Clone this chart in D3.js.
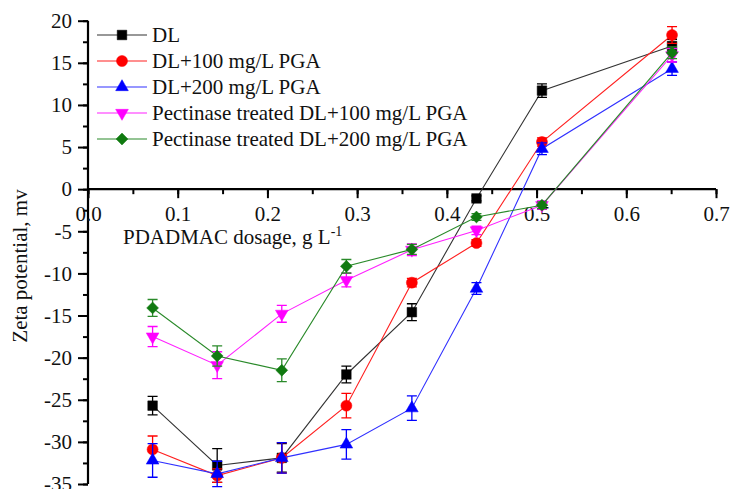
<!DOCTYPE html>
<html><head><meta charset="utf-8">
<script src="https://cdn.jsdelivr.net/npm/d3@7"></script>
<style>
body{margin:0;background:#fff;}
svg{display:block;}
text{font-family:"Liberation Serif","Times New Roman",serif;fill:#111;}
</style></head>
<body>
<svg id="chart" width="730" height="489"></svg>
<script>
// ---- data ----
const dosage = [0.072, 0.144, 0.216, 0.288, 0.361, 0.433, 0.506, 0.651];
const seriesNames = ["DL", "DL+100 mg/L PGA", "DL+200 mg/L PGA",
  "Pectinase treated DL+100 mg/L PGA", "Pectinase treated DL+200 mg/L PGA"];
const dlValues   = [-25.7, -32.8, -31.9, -22.0, -14.6, -1.1, 11.7, 17.0];
const dlErr      = [1.1, 2.0, 1.7, 1.0, 1.0, 0.3, 0.8, 0.8];
const pga100     = [-30.9, -34.0, -31.9, -25.7, -11.1, -6.4, 5.6, 18.3];
const pga100Err  = [1.6, 0.8, 1.8, 1.45, 0.5, 0.4, 0.5, 1.0];
const pga200     = [-32.2, -33.8, -31.9, -30.3, -26.0, -11.8, 4.8, 14.3];
const pga200Err  = [2.0, 1.5, 1.8, 1.75, 1.45, 0.7, 0.7, 0.8];
const pect100    = [-17.5, -20.9, -14.8, -10.8, -7.2, -4.9, -1.9, 15.9];
const pect100Err = [1.2, 1.6, 1.0, 0.8, 0.7, 0.5, 0.5, 0.8];
const pect200    = [-14.1, -19.8, -21.5, -9.15, -7.15, -3.3, -1.9, 16.2];
const pect200Err = [1.0, 1.2, 1.35, 0.8, 0.6, 0.4, 0.4, 0.7];
const xTicks = [0, 0.1, 0.2, 0.3, 0.4, 0.5, 0.6, 0.7];
const yTicks = [-35, -30, -25, -20, -15, -10, -5, 0, 5, 10, 15, 20];

// ---- styles ----
const styles = [
  {line:"#333", fill:"#000", stroke:"#000", shape:"square"},
  {line:"#ff2020", fill:"#ff0000", stroke:"#ff0000", shape:"circle"},
  {line:"#3030ff", fill:"#0000ff", stroke:"#0000ff", shape:"triangle"},
  {line:"#ff20ff", fill:"#ff00ff", stroke:"#ff00ff", shape:"down"},
  {line:"#2a8a2a", fill:"#107a10", stroke:"#2a8a2a", shape:"diamond"}
];
const allVals = [dlValues, pga100, pga200, pect100, pect200];
const allErr = [dlErr, pga100Err, pga200Err, pect100Err, pect200Err];

const svg = d3.select("#chart");
const x = d3.scaleLinear().domain([0, 0.7]).range([88, 716]);
const y = d3.scaleLinear().domain([-35, 20]).range([484, 20.7]);

function symbolPath(shape){
  if (shape === "square") return d3.symbol(d3.symbolSquare, 92)();
  if (shape === "circle") return d3.symbol(d3.symbolCircle, 95)();
  if (shape === "triangle" || shape === "down") return d3.symbol(d3.symbolTriangle, 70)();
  if (shape === "diamond") return d3.symbol(d3.symbolSquare, 70)();
}
function symbolTransform(shape, px, py){
  let t = `translate(${px},${py})`;
  if (shape === "down") t += " rotate(180)";
  if (shape === "diamond") t += " rotate(45)";
  return t;
}

// ---- axes ----
const fs = 21;
// y axis
const yMinor = d3.range(-35, 20.01, 2.5);
svg.append("g").attr("transform", "translate(88,0)")
  .call(d3.axisLeft(y).tickValues(yMinor).tickSize(5).tickFormat(""))
  .call(g => g.select(".domain").remove())
  .call(g => g.selectAll("line").attr("stroke", "#000").attr("stroke-width", 2));
svg.append("g").attr("transform", "translate(88,0)")
  .call(d3.axisLeft(y).tickValues(yTicks).tickSize(10).tickPadding(6).tickFormat(d => String(d)))
  .call(g => g.select(".domain").attr("stroke", "#000").attr("stroke-width", 2.2).attr("d", `M0,${y(-35)}V${y(20)}`))
  .call(g => g.selectAll("line").attr("stroke", "#000").attr("stroke-width", 2))
  .call(g => g.selectAll("text").attr("font-size", fs).attr("font-family", "Liberation Serif, serif").attr("fill", "#111"));

// x axis (at y = 0)
const xMinor = d3.range(0, 0.701, 0.05);
svg.append("g").attr("transform", `translate(0,${y(0)})`)
  .call(d3.axisBottom(x).tickValues(xMinor).tickSize(5).tickFormat(""))
  .call(g => g.select(".domain").remove())
  .call(g => g.selectAll("line").attr("stroke", "#000").attr("stroke-width", 2));
svg.append("g").attr("transform", `translate(0,${y(0)})`)
  .call(d3.axisBottom(x).tickValues(xTicks).tickSize(9).tickPadding(8).tickFormat(d3.format(".1f")))
  .call(g => g.select(".domain").attr("stroke", "#000").attr("stroke-width", 2.2).attr("d", `M${x(0)},0H${x(0.7)}`))
  .call(g => g.selectAll("line").attr("stroke", "#000").attr("stroke-width", 2))
  .call(g => g.selectAll("text").attr("font-size", fs).attr("font-family", "Liberation Serif, serif").attr("fill", "#111"));

// axis titles
svg.append("text").attr("transform", "translate(27,266) rotate(-90)")
  .attr("text-anchor", "middle").attr("font-size", 21).text("Zeta potential, mv");
const xt = svg.append("text").attr("x", 123).attr("y", 244).attr("font-size", 21);
xt.append("tspan").text("PDADMAC dosage, g L");
xt.append("tspan").attr("dy", -8).attr("font-size", 14).text("-1");

// ---- series ----
const line = d3.line().x((d, i) => x(dosage[i])).y(d => y(d));
allVals.forEach((vals, si) => {
  const st = styles[si];
  const g = svg.append("g");
  g.append("path").datum(vals).attr("d", line).attr("fill", "none")
    .attr("stroke", st.line).attr("stroke-width", 1.1);
  const eb = g.selectAll("g.eb").data(vals).join("g").attr("class", "eb");
  eb.append("path").attr("fill", "none").attr("stroke", st.stroke).attr("stroke-width", 1.3)
    .attr("d", (d, i) => {
      const px = x(dosage[i]), t = y(d + allErr[si][i]), b = y(d - allErr[si][i]);
      return `M${px},${t}V${b}M${px-5},${t}H${px+5}M${px-5},${b}H${px+5}`;
    });
  g.selectAll("path.mk").data(vals).join("path").attr("class", "mk")
    .attr("d", symbolPath(st.shape))
    .attr("transform", (d, i) => symbolTransform(st.shape, x(dosage[i]), y(d)))
    .attr("fill", st.fill).attr("stroke", st.fill).attr("stroke-width", 0.5);
});

// ---- legend ----
const lg = svg.append("g");
seriesNames.forEach((name, i) => {
  const st = styles[i];
  const ry = 35 + i * 26;
  lg.append("line").attr("x1", 97).attr("x2", 147).attr("y1", ry).attr("y2", ry)
    .attr("stroke", st.line).attr("stroke-width", 1.1);
  lg.append("path").attr("d", symbolPath(st.shape))
    .attr("transform", symbolTransform(st.shape, 122, ry))
    .attr("fill", st.fill).attr("stroke", st.fill).attr("stroke-width", 0.5);
  lg.append("text").attr("x", 152).attr("y", ry).attr("dy", "0.35em")
    .attr("font-size", 21).text(name);
});
</script>
</body></html>
